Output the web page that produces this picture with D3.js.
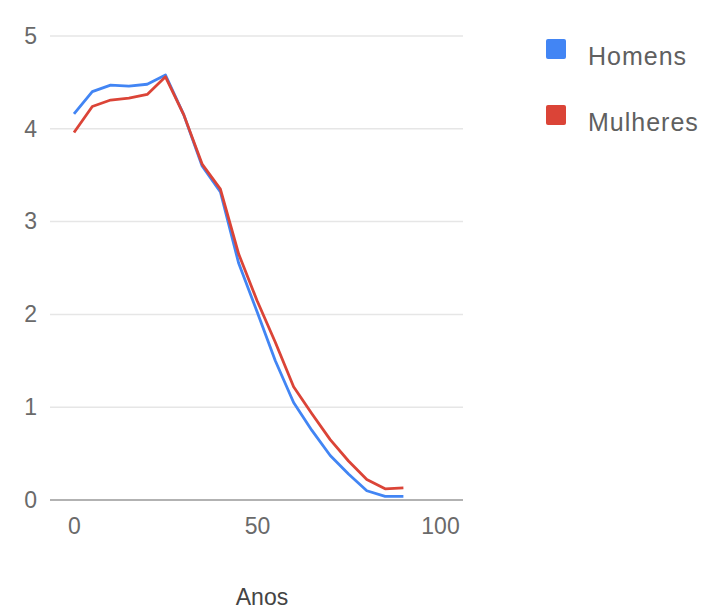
<!DOCTYPE html>
<html>
<head>
<meta charset="utf-8">
<script src="https://cdn.jsdelivr.net/npm/d3@7"></script>
<style>
  html, body { margin: 0; padding: 0; background: #fff; }
  svg { display: block; }
  text { font-family: Arial, "Liberation Sans", sans-serif; }
</style>
</head>
<body>
<svg id="chart" width="703" height="610"></svg>
<script>
const ages = [0, 5, 10, 15, 20, 25, 30, 35, 40, 45, 50, 55, 60, 65, 70, 75, 80, 85, 90];
const homens = [4.16, 4.40, 4.47, 4.46, 4.48, 4.58, 4.15, 3.60, 3.32, 2.55, 2.03, 1.50, 1.05, 0.75, 0.48, 0.28, 0.10, 0.04, 0.04];
const mulheres = [3.96, 4.24, 4.31, 4.33, 4.37, 4.56, 4.15, 3.62, 3.35, 2.65, 2.15, 1.70, 1.22, 0.93, 0.65, 0.42, 0.22, 0.12, 0.13];
const seriesNames = ["Homens", "Mulheres"];
const seriesColors = ["#4285f4", "#db4437"];
const xTicks = [0, 50, 100];
const yTicks = [0, 1, 2, 3, 4, 5];
const xTitle = "Anos";

const svg = d3.select("#chart");
const x = d3.scaleLinear().domain([0, 100]).range([74, 440]);
const y = d3.scaleLinear().domain([0, 5]).range([500, 36]);
const gridLeft = 50, gridRight = 463;
const fontSize = 23;

// gridlines
svg.append("g").selectAll("line").data(yTicks.filter(d => d !== 0)).join("line")
  .attr("x1", gridLeft).attr("x2", gridRight)
  .attr("y1", d => y(d)).attr("y2", d => y(d))
  .attr("stroke", "#e6e6e6").attr("stroke-width", 1.5);

// y axis labels
const yAxis = d3.axisLeft(y).tickValues(yTicks).tickSize(0).tickPadding(0).tickFormat(d3.format("d"));
const gy = svg.append("g").attr("transform", "translate(37,0)").call(yAxis);
gy.select(".domain").remove();
gy.selectAll("text").attr("font-size", fontSize).attr("fill", "#6a6a6a")
  .attr("font-family", "Arial, 'Liberation Sans', sans-serif");

// x axis labels
const xAxis = d3.axisBottom(x).tickValues(xTicks).tickSize(0).tickPadding(0).tickFormat(d3.format("d"));
const gx = svg.append("g").attr("transform", "translate(0,518)").call(xAxis);
gx.select(".domain").remove();
gx.selectAll("text").attr("font-size", fontSize).attr("fill", "#6a6a6a")
  .attr("font-family", "Arial, 'Liberation Sans', sans-serif");

// x title
svg.append("text").attr("x", (x(0) + x(100)) / 2 + 5).attr("y", 605)
  .attr("text-anchor", "middle").attr("font-size", fontSize).attr("fill", "#444")
  .text(xTitle);

// lines
const line = d3.line().x((d, i) => x(ages[i])).y(d => y(d));
[homens, mulheres].forEach((vals, k) => {
  svg.append("path").datum(vals)
    .attr("d", line)
    .attr("fill", "none")
    .attr("stroke", seriesColors[k])
    .attr("stroke-width", 2.8)
    .attr("stroke-linejoin", "round");
});

// baseline
svg.append("line").attr("x1", gridLeft).attr("x2", gridRight)
  .attr("y1", y(0)).attr("y2", y(0)).attr("stroke", "#999").attr("stroke-width", 1.5);

// legend
const lg = svg.append("g");
seriesNames.forEach((name, k) => {
  const cy = 49 + k * 66;
  lg.append("rect").attr("x", 546).attr("y", cy - 10).attr("width", 20).attr("height", 20)
    .attr("rx", 2).attr("fill", seriesColors[k]);
  lg.append("text").attr("x", 588).attr("y", cy + 16)
    .attr("font-size", 25).attr("letter-spacing", 1).attr("fill", "#606060").text(name);
});
</script>
</body>
</html>
